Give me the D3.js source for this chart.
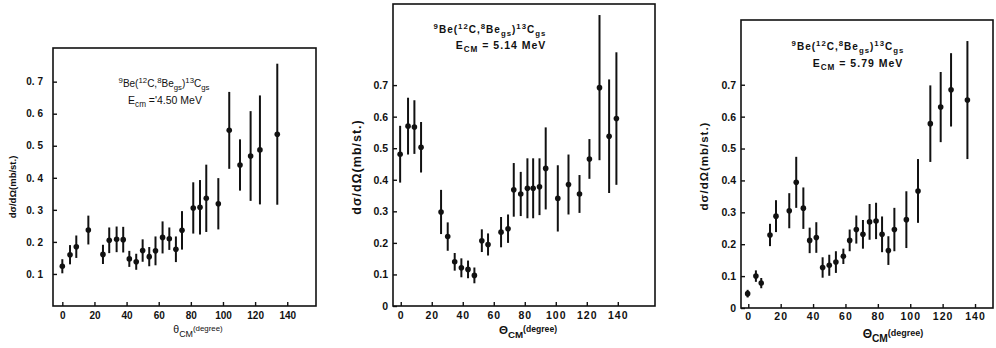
<html>
<head>
<script src="https://d3js.org/d3.v7.min.js"></script>
<style>
  body { margin: 0; background: #fff; }
  text { font-family: "Liberation Sans", Arial, sans-serif; fill: #111; }
  .frame { fill: none; stroke: #111; stroke-width: 1.6; }
  .axis path.domain { display: none; }
  .axis line { stroke: #111; stroke-width: 1.4; }
  .axis text { font-weight: bold; fill: #111; }
</style>
</head>
<body>
<svg id="mainSVG" width="996" height="348"></svg>
<script>
// tick values
const xTicks = [0, 20, 40, 60, 80, 100, 120, 140];
const yTicksA = [0.1, 0.2, 0.3, 0.4, 0.5, 0.6, 0.7];
const yTicksB = [0, 0.1, 0.2, 0.3, 0.4, 0.5, 0.6, 0.7];

// panel 1 : E_cm = 4.50 MeV
const angles1 = [0, 4.8, 8.7, 16.2, 25.3, 29.2, 33.8, 37.9, 41.7, 46, 50, 54.1, 58, 62.4, 66.6, 70.7, 74.5, 81.5, 85.7, 89.6, 97.1, 103.9, 110.6, 117.2, 123, 133.8];
const sigma1 = [0.124, 0.16, 0.185, 0.237, 0.161, 0.205, 0.208, 0.207, 0.147, 0.138, 0.173, 0.154, 0.172, 0.214, 0.21, 0.177, 0.236, 0.306, 0.308, 0.336, 0.319, 0.548, 0.44, 0.468, 0.487, 0.536];
const err1   = [0.022, 0.03, 0.035, 0.045, 0.03, 0.04, 0.04, 0.04, 0.025, 0.025, 0.035, 0.03, 0.045, 0.05, 0.035, 0.04, 0.06, 0.08, 0.085, 0.105, 0.08, 0.12, 0.08, 0.14, 0.17, 0.22];

// panel 2 : E_CM = 5.14 MeV
const angles2 = [-0.4, 4.7, 8.8, 13.1, 26, 30.3, 34.8, 39.1, 43.4, 47.5, 52.3, 56.3, 64.7, 69.2, 72.9, 77.4, 81.7, 85.4, 89.5, 93.5, 101.3, 108.2, 115.3, 121.7, 128.2, 134.4, 139.1];
const sigma2 = [0.481, 0.57, 0.567, 0.503, 0.298, 0.22, 0.14, 0.121, 0.116, 0.097, 0.207, 0.195, 0.234, 0.245, 0.368, 0.355, 0.373, 0.373, 0.378, 0.436, 0.341, 0.385, 0.355, 0.466, 0.692, 0.538, 0.594];
const err2   = [0.09, 0.09, 0.085, 0.08, 0.07, 0.045, 0.028, 0.03, 0.028, 0.025, 0.036, 0.035, 0.048, 0.045, 0.085, 0.07, 0.095, 0.095, 0.09, 0.13, 0.105, 0.095, 0.06, 0.063, 0.23, 0.18, 0.21];

// panel 3 : E_CM = 5.79 MeV
const angles3 = [-0.4, 4.7, 8, 13.4, 17.1, 25.3, 29.6, 34, 37.9, 42, 45.9, 50, 54.1, 58.7, 62.6, 66.7, 70.8, 74.9, 78.9, 82.6, 86.5, 90.2, 97.6, 104.8, 112.4, 118.8, 125.2, 135.3];
const sigma3 = [0.045, 0.1, 0.078, 0.229, 0.288, 0.305, 0.394, 0.313, 0.212, 0.221, 0.127, 0.134, 0.144, 0.162, 0.212, 0.246, 0.231, 0.27, 0.273, 0.231, 0.18, 0.246, 0.277, 0.367, 0.578, 0.63, 0.684, 0.652];
const err3   = [0.012, 0.018, 0.016, 0.035, 0.05, 0.055, 0.08, 0.065, 0.04, 0.048, 0.032, 0.033, 0.034, 0.024, 0.034, 0.044, 0.045, 0.056, 0.057, 0.056, 0.045, 0.068, 0.089, 0.1, 0.12, 0.11, 0.115, 0.185];

// reaction label pieces: [text, mode]
const reaction = [["9","sup"],["Be("],["12","sup"],["C,"],["8","sup"],["Be"],["gs","sub"],[")"],["13","sup"],["C"],["gs","sub"]];

const mainSvg = d3.select("#mainSVG");

const panels = [
  { angles: angles1, sigma: sigma1, err: err1, yTicks: yTicksA,
    box: { left: 53, top: 48, right: 316, bottom: 306 },
    xDomain: [-5.8, 157.9], yDomain: [0, 0.805],
    yPad: 10, xPad: 6, tickFont: 10, spaced: true,
    energy: [["E"],["cm","sub"],[" ='4.50 MeV"]], annoWeight: "normal", annoSpacing: 0,
    line1: [164, 87], line2: [165, 104], annoSize: 10,
    yLabel: [13, 187], yLabelSize: 9.5,
    xLabel: [198, 333], xLabelSize: 10.5, theta: "θ" },
  { angles: angles2, sigma: sigma2, err: err2, yTicks: yTicksB,
    box: { left: 393, top: 4, right: 655, bottom: 306 },
    xDomain: [-5, 164], yDomain: [0, 0.957],
    yPad: 5, xPad: 6, tickFont: 10.5, spaced: false,
    energy: [["E"],["CM","sub"],[" = 5.14 MeV"]], annoWeight: "bold", annoSpacing: 1,
    line1: [490, 33], line2: [501, 49], annoSize: 10,
    yLabel: [357, 167], yLabelSize: 12.5,
    xLabel: [528, 334], xLabelSize: 11.5, theta: "Θ" },
  { angles: angles3, sigma: sigma3, err: err3, yTicks: yTicksB,
    box: { left: 741, top: 20, right: 993, bottom: 308 },
    xDomain: [-4.5, 151.1], yDomain: [0, 0.903],
    yPad: 5, xPad: 5, tickFont: 10.5, spaced: false,
    energy: [["E"],["CM","sub"],[" = 5.79 MeV"]], annoWeight: "bold", annoSpacing: 1,
    line1: [848, 50], line2: [858, 67], annoSize: 10,
    yLabel: [704, 166], yLabelSize: 11.5,
    xLabel: [893, 338], xLabelSize: 12, theta: "Θ" }
];

// text with super/subscripts built from tspans
function richText(g, x, y, parts, size) {
  const t = g.append("text")
    .attr("x", x).attr("y", y)
    .attr("text-anchor", "middle")
    .style("font-size", size + "px");
  let cur = 0;
  parts.forEach(([s, mode]) => {
    const off = mode === "sup" ? -size * 0.42 : mode === "sub" ? size * 0.32 : 0;
    t.append("tspan")
      .attr("dy", off - cur)
      .style("font-size", mode ? (size * 0.78) + "px" : null)
      .text(s);
    cur = off;
  });
  return t;
}

panels.forEach(p => {
  const g = mainSvg.append("g");
  const b = p.box;

  const xScale = d3.scaleLinear().domain(p.xDomain).range([b.left, b.right]);
  const yScale = d3.scaleLinear().domain(p.yDomain).range([b.bottom, b.top]);

  // axes, ticks pointing inward
  const fmt = d3.format(".1f");
  const yAxis = d3.axisLeft(yScale)
    .tickValues(p.yTicks)
    .tickSizeInner(-4).tickSizeOuter(0)
    .tickPadding(p.yPad)
    .tickFormat(d => d === 0 ? "0" : (p.spaced ? fmt(d).replace(".", ". ") : fmt(d)));
  g.append("g").attr("class", "axis")
    .attr("transform", `translate(${b.left},0)`)
    .call(yAxis)
    .selectAll("text").style("font-size", p.tickFont + "px");

  const xAxis = d3.axisBottom(xScale)
    .tickValues(xTicks)
    .tickSizeInner(-4).tickSizeOuter(0)
    .tickPadding(p.xPad);
  g.append("g").attr("class", "axis")
    .attr("transform", `translate(0,${b.bottom})`)
    .call(xAxis)
    .selectAll("text")
    .style("font-size", p.tickFont + "px")
    .style("letter-spacing", p.spaced ? "0px" : "1px");

  // frame
  g.append("rect").attr("class", "frame")
    .attr("x", b.left).attr("y", b.top)
    .attr("width", b.right - b.left).attr("height", b.bottom - b.top);

  // points with error bars
  const rows = p.angles.map((a, i) => ({ a, v: p.sigma[i], e: p.err[i] }));
  g.selectAll("line.err")
    .data(rows)
    .join("line")
    .attr("class", "err")
    .attr("x1", d => xScale(d.a)).attr("x2", d => xScale(d.a))
    .attr("y1", d => yScale(Math.max(0, d.v - d.e)))
    .attr("y2", d => yScale(d.v + d.e))
    .attr("stroke", "#111").attr("stroke-width", 2);
  g.selectAll("circle.pt")
    .data(rows)
    .join("circle")
    .attr("class", "pt")
    .attr("cx", d => xScale(d.a)).attr("cy", d => yScale(d.v))
    .attr("r", 2.8).attr("fill", "#111");

  // annotation
  richText(g, p.line1[0], p.line1[1], reaction, p.annoSize)
    .style("font-weight", p.annoWeight).style("letter-spacing", p.annoSpacing + "px");
  richText(g, p.line2[0], p.line2[1], p.energy, p.annoSize + 0.5)
    .style("font-weight", p.annoWeight).style("letter-spacing", p.annoSpacing + "px");

  // y label
  g.append("text")
    .attr("transform", `translate(${p.yLabel[0]},${p.yLabel[1]}) rotate(-90)`)
    .attr("text-anchor", "middle")
    .attr("dy", "0.35em")
    .style("font-size", p.yLabelSize + "px")
    .style("font-weight", "bold")
    .style("letter-spacing", p.spaced ? "0px" : "1px")
    .text("dσ/dΩ(mb/st.)");

  // x label
  const xl = g.append("text")
    .attr("x", p.xLabel[0]).attr("y", p.xLabel[1])
    .attr("text-anchor", "middle")
    .style("font-size", p.xLabelSize + "px")
    .style("font-weight", p.spaced ? "normal" : "bold");
  xl.append("tspan").text(p.theta);
  xl.append("tspan").attr("dy", 4).style("font-size", (p.xLabelSize * 0.85) + "px").text("CM");
  xl.append("tspan").attr("dy", -6).style("font-size", (p.xLabelSize * 0.75) + "px").text("(degree)");
});
</script>
</body>
</html>
